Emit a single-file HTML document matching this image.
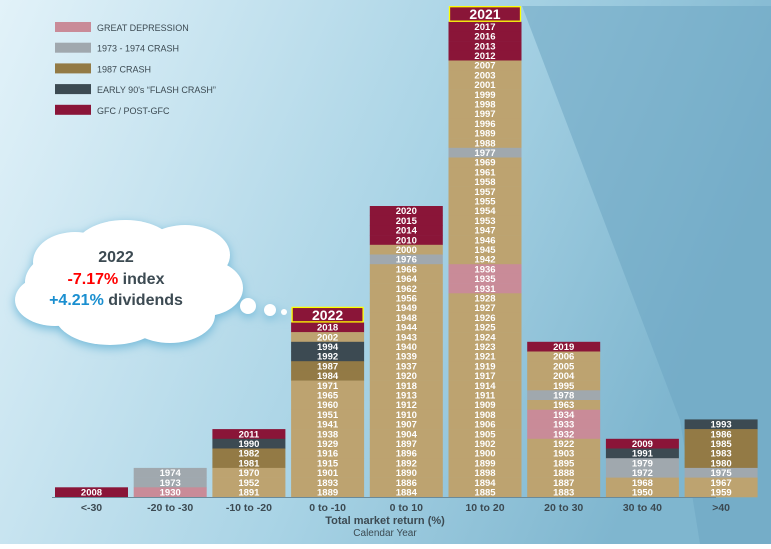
<!DOCTYPE html>
<html><head><meta charset="utf-8"><style>
body{margin:0;width:771px;height:544px;overflow:hidden;font-family:"Liberation Sans",sans-serif}
svg text{font-family:"Liberation Sans",sans-serif}
</style></head><body>
<svg id="c" width="771" height="544" xmlns="http://www.w3.org/2000/svg">
<defs>
<linearGradient id="bg" x1="0" y1="0" x2="1" y2="0.3"><stop offset="0" stop-color="#e2f2f9"/><stop offset="0.6" stop-color="#a8d3e5"/><stop offset="1" stop-color="#7fb6cf"/></linearGradient>
<filter id="blur" x="-20%" y="-20%" width="140%" height="140%"><feGaussianBlur stdDeviation="5"/></filter>
<g id="cloudshape">
<ellipse cx="75" cy="262" rx="42" ry="30"/><ellipse cx="125" cy="248" rx="50" ry="28"/><ellipse cx="185" cy="255" rx="45" ry="30"/>
<ellipse cx="205" cy="288" rx="38" ry="28"/><ellipse cx="55" cy="300" rx="40" ry="26"/><ellipse cx="110" cy="315" rx="55" ry="30"/><ellipse cx="170" cy="315" rx="45" ry="28"/>
<ellipse cx="125" cy="282" rx="100" ry="45"/>
<circle cx="248" cy="306" r="8"/><circle cx="270" cy="310" r="6"/><circle cx="284" cy="312" r="3"/>
</g>
</defs>
<rect width="771" height="544" fill="url(#bg)"/>
<polygon points="522,6 771,6 771,544 700,544 680,420" fill="#6ea6c2" opacity="0.55"/>
<g id="legend"></g>
<g>
<use href="#cloudshape" fill="#6fb8d8" filter="url(#blur)" transform="translate(0,3)"/>
<use href="#cloudshape" fill="#fff"/>
<text x="116" y="262" text-anchor="middle" font-size="16" font-weight="bold" fill="#3c4a52">2022</text>
<text x="116" y="284" text-anchor="middle" font-size="16" font-weight="bold"><tspan fill="#ff0000">-7.17%</tspan><tspan fill="#3c4a52"> index</tspan></text>
<text x="116" y="305" text-anchor="middle" font-size="16" font-weight="bold"><tspan fill="#1a8fd0">+4.21%</tspan><tspan fill="#3c4a52"> dividends</tspan></text>
</g>
<g id="bars"></g>
<line x1="52" y1="497.5" x2="716" y2="497.5" stroke="#6a8a9a" stroke-width="1"/>
<text x="385" y="524" text-anchor="middle" font-size="11" font-weight="bold" fill="#3c4a52">Total market return (%)</text>
<text x="385" y="536" text-anchor="middle" font-size="10" fill="#3c4a52">Calendar Year</text>
</svg>
<script>
const categories=["<-30","-20 to -30","-10 to -20","0 to -10","0 to 10","10 to 20","20 to 30","30 to 40",">40"];
const col0=[2008];
const col1=[1974,1973,1930];
const col2=[2011,1990,1982,1981,1970,1952,1891];
const col3=[2018,2002,1994,1992,1987,1984,1971,1965,1960,1951,1941,1938,1929,1916,1915,1901,1893,1889];
const col4=[2020,2015,2014,2010,2000,1976,1966,1964,1962,1956,1949,1948,1944,1943,1940,1939,1937,1920,1918,1913,1912,1910,1907,1904,1897,1896,1892,1890,1886,1884];
const col5=[2017,2016,2013,2012,2007,2003,2001,1999,1998,1997,1996,1989,1988,1977,1969,1961,1958,1957,1955,1954,1953,1947,1946,1945,1942,1936,1935,1931,1928,1927,1926,1925,1924,1923,1921,1919,1917,1914,1911,1909,1908,1906,1905,1902,1900,1899,1898,1894,1885];
const col6=[2019,2006,2005,2004,1995,1978,1963,1934,1933,1932,1922,1903,1895,1888,1887,1883];
const col7=[2009,1991,1979,1972,1968,1950];
const col8=[1993,1986,1985,1983,1980,1975,1967,1959];
const columns=[col0,col1,col2,col3,col4,col5,col6,col7,col8];
const headers=[null,null,null,"2022",null,"2021",null,null,null];
const depressionYears=[1930,1931,1932,1933,1934,1935,1936];
const crash73Years=[1972,1973,1974,1975,1976,1977,1978,1979];
const crash87Years=[1980,1981,1982,1983,1984,1985,1986,1987];
const flash90Years=[1990,1991,1992,1993,1994];
const gfcYears=[2008,2009,2010,2011,2012,2013,2014,2015,2016,2017,2018,2019,2020];
const legendLabels=["GREAT DEPRESSION","1973 - 1974 CRASH","1987 CRASH","EARLY 90's \u201cFLASH CRASH\u201d","GFC / POST-GFC"];

const NS="http://www.w3.org/2000/svg";
const C={dep:"#c98b98",c73:"#a0a8ae",c87:"#937a45",f90:"#3c4a52",gfc:"#8a1538",base:"#bda370"};
const legendColors=[C.dep,C.c73,C.c87,C.f90,C.gfc];
const X0=55,PITCH=78.7,W=73,BOTTOM=497,ROW=9.7;
const xScale=i=>X0+i*PITCH;
const yScale=k=>BOTTOM-k*ROW;
function colorOf(y){
 if(gfcYears.includes(y))return C.gfc;
 if(flash90Years.includes(y))return C.f90;
 if(crash87Years.includes(y))return C.c87;
 if(crash73Years.includes(y))return C.c73;
 if(depressionYears.includes(y))return C.dep;
 return C.base;
}
function mk(t,a,p){const e=document.createElementNS(NS,t);for(const k in a)e.setAttribute(k,a[k]);p.appendChild(e);return e;}
const bars=document.getElementById('bars');
columns.forEach((col,i)=>{
 const x=xScale(i),n=col.length;
 const g=mk('g',{},bars);
 
 
 col.forEach((yr,j)=>{
  const k=n-j;
  const r=mk('rect',{x:x,y:yScale(k),width:W,height:ROW+0.3,fill:colorOf(yr)},g);
  
  
  const t=mk('text',{x:x+W/2,y:yScale(k)+8.2,'text-anchor':'middle','font-size':9.5,'font-weight':'bold',fill:'#fff'},g);
  
  
  t.textContent=yr;
 });
 if(headers[i]){
  const top=yScale(n)-15;
  const h=mk('rect',{x:x+1,y:top,width:W-2,height:14.5,fill:C.gfc,stroke:'#ffff00','stroke-width':1.3},g);
  
  
  const ht=mk('text',{x:x+W/2,y:top+12.5,'text-anchor':'middle','font-size':14,'font-weight':'bold',fill:'#fff'},g);
  
  
  ht.textContent=headers[i];
 }
 const lt=mk('text',{x:x+W/2,y:511,'text-anchor':'middle','font-size':10.5,'font-weight':'bold',fill:'#3c4a52'},bars);
 
 
 lt.textContent=categories[i];
});
const lg=document.getElementById('legend');
legendLabels.forEach((l,i)=>{
 const y=22+i*20.7;
 const r=mk('rect',{x:55,y:y,width:36,height:10,fill:legendColors[i]},lg);
 
 
 const t=mk('text',{x:97,y:y+9,'font-size':9,fill:'#3c4a52'},lg);
 
 
 t.textContent=l;
});
</script>
</body></html>
